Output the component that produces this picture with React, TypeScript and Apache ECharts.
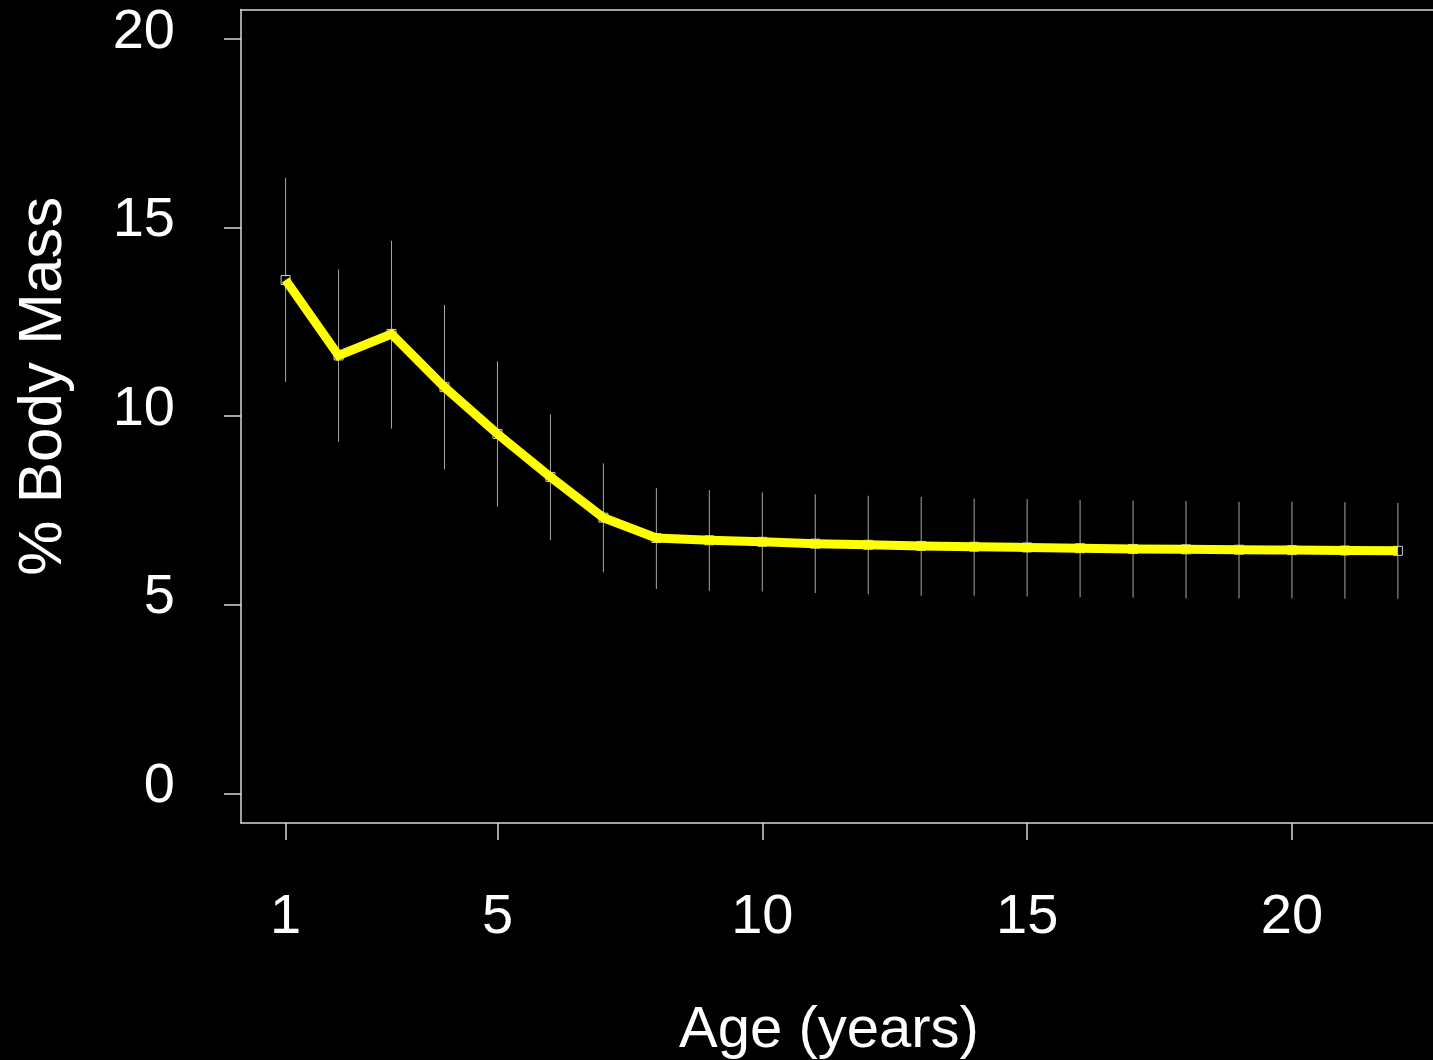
import React, { useEffect, useRef } from "react";
import * as echarts from "echarts";

const ages = [1, 2, 3, 4, 5, 6, 7, 8, 9, 10, 11, 12, 13, 14, 15, 16, 17, 18, 19, 20, 21, 22];
const meanMass = [13.61, 11.61, 12.18, 10.77, 9.53, 8.39, 7.31, 6.77, 6.71, 6.67, 6.62, 6.59, 6.56, 6.54, 6.52, 6.5, 6.48, 6.47, 6.46, 6.45, 6.44, 6.43];
const upperMass = [16.32, 13.89, 14.65, 12.95, 11.45, 10.05, 8.75, 8.1, 8.04, 7.98, 7.93, 7.89, 7.86, 7.82, 7.8, 7.78, 7.76, 7.75, 7.73, 7.73, 7.72, 7.7];
const lowerMass = [10.91, 9.32, 9.67, 8.59, 7.6, 6.72, 5.86, 5.42, 5.37, 5.35, 5.31, 5.28, 5.24, 5.24, 5.22, 5.2, 5.19, 5.17, 5.17, 5.17, 5.16, 5.16];
const xTicks = [1, 5, 10, 15, 20];
const yTicks = [0, 5, 10, 15, 20];

const FONT = "'Liberation Sans', Arial, sans-serif";
const AXIS_COLOR = "#d9d9d9";
const X_MIN = 0.158;
const X_MAX = 22.663;

export default function App() {
  const ref = useRef<HTMLDivElement>(null);
  useEffect(() => {
    if (!ref.current) return;
    const chart = echarts.init(ref.current, undefined, { renderer: "svg" });
    const points = ages.map((a, i) => [a, meanMass[i]]);
    const bars = ages.map((a, i) => [a, lowerMass[i], upperMass[i]]);
    chart.setOption({
      animation: false,
      backgroundColor: "#000000",
      grid: {
        left: 238,
        top: 7,
        right: 0,
        bottom: 237,
        show: false,
      },
      xAxis: [
        {
          type: "value",
          position: "bottom",
          min: X_MIN,
          max: X_MAX,
          name: "Age (years)",
          nameLocation: "middle",
          nameGap: 174,
          nameTextStyle: { color: "#ffffff", fontSize: 58, fontFamily: FONT, padding: [0, 16, 0, 0] },
          axisLine: { show: true, onZero: false, lineStyle: { color: AXIS_COLOR, width: 1.5 } },
          splitLine: { show: false },
          axisTick: { show: true, length: 17, customValues: xTicks, lineStyle: { color: AXIS_COLOR, width: 1.5 } },
          axisLabel: { show: true, customValues: xTicks, margin: 62, color: "#ffffff", fontSize: 56, fontFamily: FONT },
        },
        {
          type: "value",
          position: "top",
          min: X_MIN,
          max: X_MAX,
          axisLine: { show: true, onZero: false, lineStyle: { color: AXIS_COLOR, width: 1.5 } },
          splitLine: { show: false },
          axisTick: { show: false },
          axisLabel: { show: false },
        },
      ],
      yAxis: {
        type: "value",
        min: -0.785,
        max: 20.785,
        name: "% Body Mass",
        nameLocation: "middle",
        nameGap: 171,
        nameRotate: 90,
        nameTextStyle: { color: "#ffffff", fontSize: 62, fontFamily: FONT, padding: [0, 0, 0, 60] },
        axisLine: { show: true, onZero: false, lineStyle: { color: AXIS_COLOR, width: 1.5 } },
        splitLine: { show: false },
        axisTick: { show: true, length: 17, customValues: yTicks, lineStyle: { color: AXIS_COLOR, width: 1.5 } },
        axisLabel: {
          show: true,
          customValues: yTicks,
          margin: 66,
          color: "#ffffff",
          fontSize: 56,
          fontFamily: FONT,
          verticalAlign: "bottom",
          lineHeight: 22,
        },
      },
      series: [
        {
          type: "custom",
          z: 1,
          data: bars,
          renderItem: (params: any, api: any) => {
            const x = api.value(0);
            const p1 = api.coord([x, api.value(1)]);
            const p2 = api.coord([x, api.value(2)]);
            return {
              type: "line",
              shape: { x1: p1[0], y1: p1[1], x2: p2[0], y2: p2[1] },
              style: { stroke: "#a6a6a6", lineWidth: 1 },
            };
          },
        },
        {
          type: "scatter",
          z: 2,
          data: points,
          symbol: "rect",
          symbolSize: 9,
          itemStyle: { color: "#000000", borderColor: "#ffffff", borderWidth: 1 },
        },
        {
          type: "line",
          z: 3,
          data: points,
          showSymbol: false,
          symbol: "none",
          lineStyle: { color: "#ffff00", width: 9, cap: "butt", join: "miter" },
        },
      ],
    });
    return () => chart.dispose();
  }, []);
  return (
    <div
      ref={ref}
      style={{ position: "fixed", left: 0, top: 0, width: 1433, height: 1060, background: "#000" }}
    />
  );
}
